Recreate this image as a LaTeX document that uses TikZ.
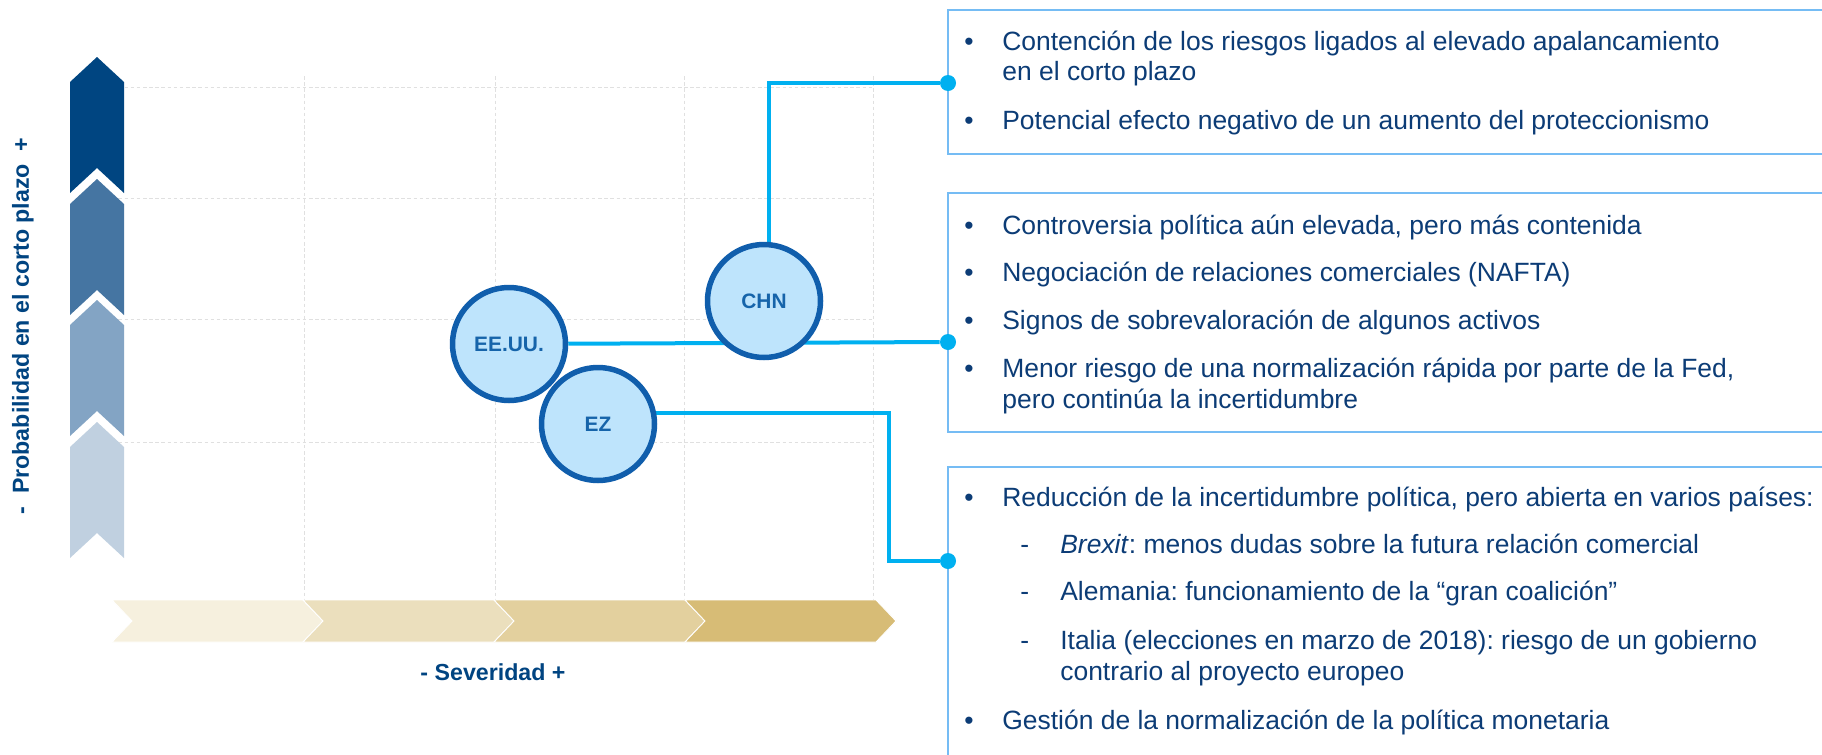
\documentclass[tikz,border=0pt]{standalone}
\usepackage{fontspec}
\setmainfont{Liberation Sans}
\usetikzlibrary{backgrounds}
\frenchspacing

\definecolor{bbvanavy}{RGB}{0,68,129}
\definecolor{txtblue}{RGB}{12,60,118}
\definecolor{linkcyan}{RGB}{0,176,240}
\definecolor{boxblue}{RGB}{117,188,244}
\definecolor{ringblue}{RGB}{16,94,172}
\definecolor{bubblefill}{RGB}{190,228,252}
\definecolor{bubbletext}{RGB}{22,100,170}
\definecolor{gridgray}{RGB}{224,224,224}
\definecolor{prob1}{RGB}{0,69,129}
\definecolor{prob2}{RGB}{69,117,162}
\definecolor{prob3}{RGB}{131,164,196}
\definecolor{prob4}{RGB}{192,208,224}
\definecolor{sev1}{RGB}{246,240,222}
\definecolor{sev2}{RGB}{235,223,189}
\definecolor{sev3}{RGB}{227,208,158}
\definecolor{sev4}{RGB}{215,188,118}

\newlength\pxu
\setlength\pxu{0.02cm}
\newcommand\bul{\makebox[38\pxu][l]{\textbullet}}
\newcommand\cnt{\hspace*{38\pxu}}
\newcommand\dsh{\hspace*{56\pxu}\makebox[40\pxu][l]{-}}
\newcommand\dcnt{\hspace*{96\pxu}}

\tikzset{
  grid line/.style={gridgray, line width=0.5pt, dash pattern=on 2pt off 1.5pt},
  link/.style={linkcyan, line width=4\pxu},
  bubble/.style={circle, draw=ringblue, fill=bubblefill, line width=5.5\pxu,
    minimum size=113\pxu, inner sep=0pt, text=bubbletext,
    font=\fontsize{11.9}{14}\selectfont\bfseries},
  joint/.style={circle, fill=linkcyan, minimum size=16\pxu, inner sep=0pt},
  panel/.style={boxblue, line width=2.5\pxu},
  notes/.style={anchor=base west, inner sep=0pt, text=txtblue,
    font=\fontsize{15.05}{17.57}\selectfont},
  axislabel/.style={text=bbvanavy, font=\fontsize{13.2}{15}\selectfont\bfseries},
}

\begin{document}
\begin{tikzpicture}[x=0.02cm, y=-0.02cm]
\useasboundingbox (0,0) rectangle (1822,754);

% probability scale
\foreach \y/\c in {82/prob1, 204/prob2, 325/prob3, 447/prob4}
  \fill[\c] (70,\y) -- (97,\y-25) -- (124,\y) -- (124,\y+111) -- (97,\y+86) -- (70,\y+111) -- cycle;

% severity scale
\foreach \x/\c in {112/sev1, 303/sev2, 494/sev3, 685/sev4}
  \filldraw[fill=\c, draw=white, line width=0.5pt] (\x,600) -- (\x+191,600) -- (\x+211,621)
    -- (\x+191,642) -- (\x,642) -- (\x+20,621) -- cycle;

\node[axislabel, rotate=90] (problabel) at (23,326) {-~~Probabilidad en el corto plazo~~+};
\node[axislabel] (sevlabel) at (493,672) {- Severidad +};

% countries
\node[bubble] (eeuu) at (509,344) {EE.UU.};
\node[bubble] (chn) at (764,301) {CHN};
\node[bubble] (ez) at (598,424) {EZ};

% panels
\draw[panel] (948,10) rectangle (1840,154);
\draw[panel] (948,193) rectangle (1840,432);
\draw[panel] (948,467) rectangle (1840,770);

\node[joint] (dot1) at (948,83) {};
\node[joint] (dot2) at (948,342) {};
\node[joint] (dot3) at (948,561) {};

\node[notes] (chnnotes) at (964,50) {\begin{tabular}[t]{@{}l@{}}
\bul Contención de los riesgos ligados al elevado apalancamiento\\
\cnt en el corto plazo\\[18\pxu]
\bul Potencial efecto negativo de un aumento del proteccionismo
\end{tabular}};

\node[notes] (eeuunotes) at (964,234) {\begin{tabular}[t]{@{}l@{}}
\bul Controversia política aún elevada, pero más contenida\\[17\pxu]
\bul Negociación de relaciones comerciales (NAFTA)\\[17\pxu]
\bul Signos de sobrevaloración de algunos activos\\[17\pxu]
\bul Menor riesgo de una normalización rápida por parte de la Fed,\\
\cnt pero continúa la incertidumbre
\end{tabular}};

\node[notes] (eznotes) at (964,506) {\begin{tabular}[t]{@{}l@{}}
\bul Reducción de la incertidumbre política, pero abierta en varios países:\\[17\pxu]
\dsh\textit{Brexit}: menos dudas sobre la futura relación comercial\\[16\pxu]
\dsh Alemania: funcionamiento de la “gran coalición”\\[18\pxu]
\dsh Italia (elecciones en marzo de 2018): riesgo de un gobierno\\
\dcnt contrario al proyecto europeo\\[18\pxu]
\bul Gestión de la normalización de la política monetaria
\end{tabular}};

\begin{pgfonlayer}{background}
  \fill[white] (0,0) rectangle (1822,754);
  % grid
  \foreach \x in {304,495,684,873} \draw[grid line] (\x,76) -- (\x,600);
  \foreach \y in {87,198,319,442} \draw[grid line] (100,\y) -- (873,\y);
  % connectors
  \draw[link] (chn.north) ++(5,0) |- (dot1);
  \draw[link] (eeuu) -- (dot2);
  \draw[link] (ez.center) ++(0,-11) -| (889,561) -- (dot3);
\end{pgfonlayer}
\end{tikzpicture}
\end{document}
